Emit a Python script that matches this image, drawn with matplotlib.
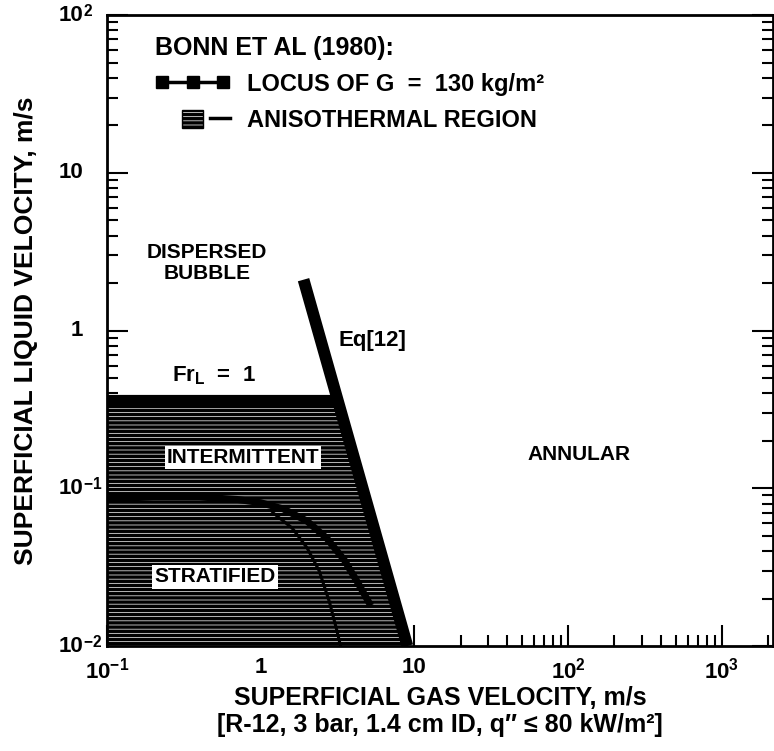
import numpy as np
import matplotlib
matplotlib.use("Agg")
import matplotlib.pyplot as plt
from matplotlib.lines import Line2D
from matplotlib.patches import Patch
from matplotlib.legend_handler import HandlerTuple, HandlerLine2D

plt.rcParams["font.family"] = ["Liberation Sans", "DejaVu Sans"]
plt.rcParams["font.weight"] = "bold"
plt.rcParams["axes.labelweight"] = "bold"
plt.rcParams["mathtext.fontset"] = "custom"
plt.rcParams["mathtext.rm"] = "Liberation Sans:bold"
plt.rcParams["mathtext.it"] = "Liberation Sans:bold:italic"
plt.rcParams["mathtext.bf"] = "Liberation Sans:bold"
plt.rcParams["mathtext.default"] = "rm"
plt.rcParams["hatch.linewidth"] = 2.5

# --- boundaries (jg, jl in m/s) ---
fr_level = 0.36                 # Fr_L = 1 line
eq12_x = [1.9, 9.0]             # Eq[12] transition
eq12_y = [2.1, 0.01]

locus_x = [0.1, 0.2, 0.4, 0.7, 1.0, 1.4, 2.0, 2.7, 3.5, 4.3, 5.2]
locus_y = [0.086, 0.088, 0.088, 0.085, 0.081, 0.074, 0.062, 0.048, 0.035, 0.025, 0.018]

strat_x = [1.2, 1.6, 2.0, 2.4, 2.8, 3.1, 3.35]
strat_y = [0.070, 0.056, 0.042, 0.030, 0.019, 0.013, 0.0095]

x_ticks = [0.1, 1, 10, 100, 1000]
x_ticklabels = ["10$^{-1}$", "1", "10", "10$^{2}$", "10$^{3}$"]
y_ticks = [0.01, 0.1, 1, 10, 100]
y_base = ["10", "10", "1", "10", "10"]
y_sup = ["-2", "-1", "", "", "2"]

XMIN, XMAX = 0.1, 2150
YMIN, YMAX = 0.01, 100

fig = plt.figure(figsize=(7.74, 7.51), dpi=100)
ax = fig.add_axes([0.1382, 0.1398, 0.8605, 0.8402])
ax.set_xscale("log")
ax.set_yscale("log")
ax.set_xlim(XMIN, XMAX)
ax.set_ylim(YMIN, YMAX)
ax.set_axisbelow(True)

# intersection of Fr_L = 1 with Eq[12] (log space)
lx, ly = np.log10(eq12_x), np.log10(eq12_y)
x_int = 10 ** np.interp(np.log10(fr_level), ly[::-1], lx[::-1])

# anisothermal (hatched) region
reg_x = [XMIN, XMIN, x_int, eq12_x[1]]
reg_y = [YMIN, fr_level, fr_level, YMIN]
ax.fill(reg_x, reg_y, facecolor="white", edgecolor="black", hatch="----", linewidth=0, zorder=1)

ax.plot(locus_x, locus_y, color="black", lw=5, solid_capstyle="butt", zorder=2)
ax.plot(strat_x, strat_y, color="black", lw=2.2, zorder=2)
ax.plot([XMIN, x_int], [fr_level, fr_level], color="black", lw=9.5, solid_capstyle="butt", zorder=3)
ax.plot(eq12_x, eq12_y, color="black", lw=8.5, solid_capstyle="butt", zorder=3)

# region labels
ax.text(0.447, 2.68, "DISPERSED\nBUBBLE", ha="center", va="center", fontsize=15, linespacing=1.1)
ax.text(5.3, 0.87, "Eq[12]", ha="center", va="center", fontsize=16)
ax.text(0.5, 0.52, r"Fr$_{\mathrm{L}}$  =  1", ha="center", va="center", fontsize=16)
ax.text(117, 0.163, "ANNULAR", ha="center", va="center", fontsize=15)
box = dict(facecolor="white", edgecolor="none", pad=1.5)
ax.text(0.767, 0.156, "INTERMITTENT", ha="center", va="center", fontsize=15, bbox=box, zorder=4)
ax.text(0.504, 0.0274, "STRATIFIED", ha="center", va="center", fontsize=15, bbox=box, zorder=4)

# legend
h_locus = Line2D([], [], color="black", lw=2.5, marker="s", markersize=9)
h_blank = Patch(facecolor="none", edgecolor="none")
h_hatch = Patch(facecolor="white", edgecolor="black", hatch="----", lw=1)
h_dash = Line2D([], [], color="black", lw=2.5)
leg = ax.legend([h_locus, (h_blank, h_hatch, h_dash)],
                ["LOCUS OF G  =  130 kg/m²", "ANISOTHERMAL REGION"],
                handler_map={tuple: HandlerTuple(ndivide=None, pad=0.3),
                             h_dash: HandlerLine2D(marker_pad=0)},
                title="BONN ET AL (1980):", alignment="left",
                loc="upper left", bbox_to_anchor=(0.072, 0.967),
                frameon=False, fontsize=17, title_fontsize=18,
                numpoints=3, handlelength=3.2, handleheight=0.8,
                handletextpad=0.7, labelspacing=0.55, borderpad=0, borderaxespad=0)
leg.get_title().set_fontweight("bold")

# ticks
for s in ax.spines.values():
    s.set_linewidth(2)
ax.tick_params(which="both", direction="in", top=False, right=True, width=1.5)
ax.tick_params(which="major", length=15)
ax.tick_params(which="minor", length=8)
ax.set_xticks(x_ticks)
ax.set_xticklabels(x_ticklabels, fontsize=16)
ax.tick_params(axis="x", which="major", pad=8)
ax.set_yticks(y_ticks)
ax.set_yticklabels([])
for v, b, s in zip(y_ticks, y_base, y_sup):
    ax.annotate(b, xy=(0, v), xycoords=("axes fraction", "data"), xytext=(-17, 0),
                textcoords="offset points", ha="right", va="center", fontsize=16)
    if s:
        ax.annotate("$^{%s}$" % s, xy=(0, v), xycoords=("axes fraction", "data"), xytext=(-17, 0),
                    textcoords="offset points", ha="left", va="center", fontsize=16)

ax.set_xlabel("SUPERFICIAL GAS VELOCITY, m/s\n[R-12, 3 bar, 1.4 cm ID, q\u2033 \u2264 80 kW/m²]",
              fontsize=18, linespacing=1.15)
ax.xaxis.set_label_coords(0.5, -0.064)
ax.set_ylabel("SUPERFICIAL LIQUID VELOCITY, m/s", fontsize=19)
ax.yaxis.set_label_coords(-0.104, 0.5)

fig.savefig("out.png", dpi=100)
